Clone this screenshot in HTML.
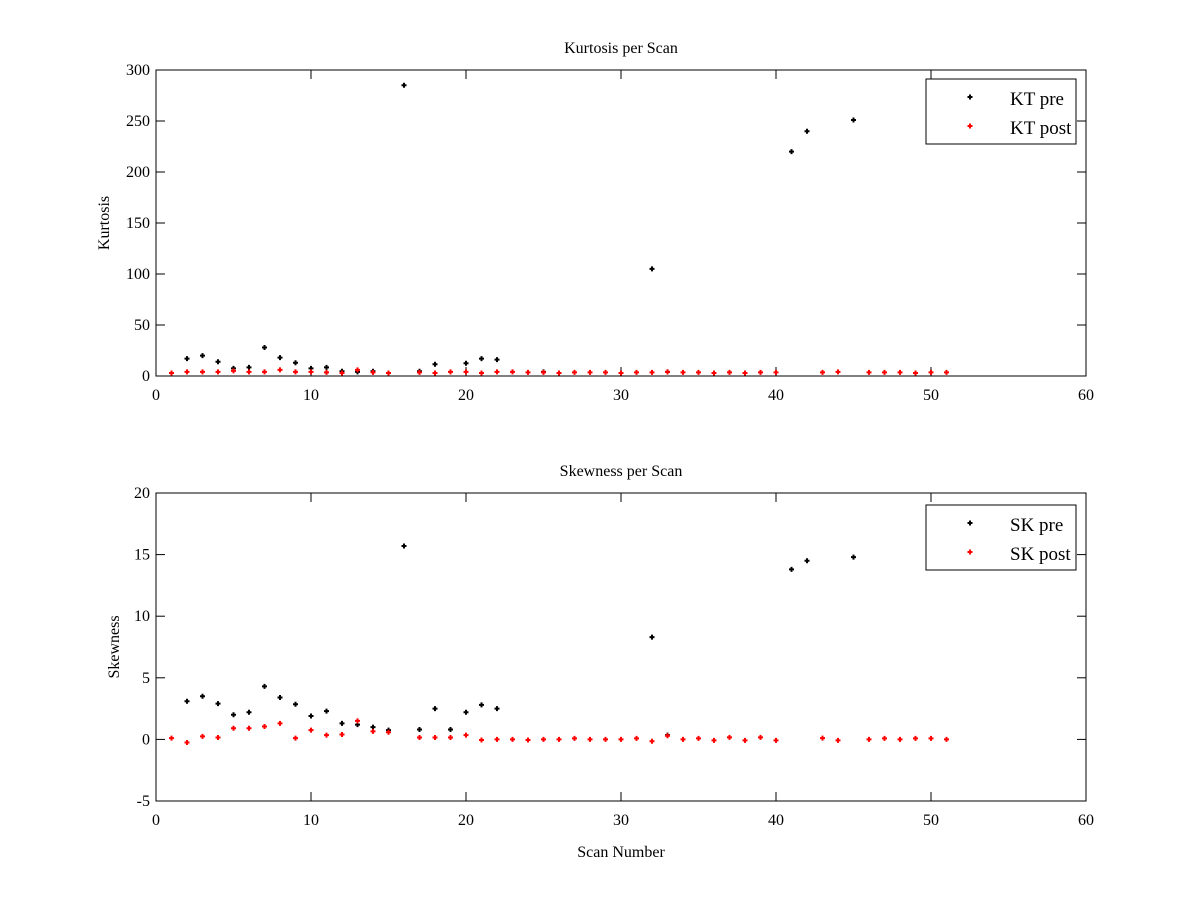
<!DOCTYPE html>
<html><head><meta charset="utf-8"><style>
html,body{margin:0;padding:0;background:#fff;}
svg text{font-family:"Liberation Serif",serif;fill:#000;}
</style></head>
<body>
<svg id="fig" width="1200" height="900" xmlns="http://www.w3.org/2000/svg"></svg>
<script>
// ---- data ----
const ktPreScans = [2,3,4,5,6,7,8,9,10,11,12,13,14,16,17,18,20,21,22,25,32,33,41,42,45];
const ktPreValues = [17,20,14,7.5,8.5,28,18,13,7.5,8.5,4.6,4,4.6,285,4.6,11.5,12.5,17,16,4,105,4,220,240,251];
const ktPostScans = [1,2,3,4,5,6,7,8,9,10,11,12,13,14,15,17,18,19,20,21,22,23,24,25,26,27,28,29,30,31,32,33,34,35,36,37,38,39,40,43,44,46,47,48,49,50,51];
const ktPostValues = [3,4,4,4,5,4,4,6,4,4,3.5,3,6,3.5,3,3.5,3,4,4,3,4,4,3.5,3.5,3,3.5,3.5,3.5,3,3.5,3.5,4,3.5,3.5,3,3.5,3,3.5,3.5,3.5,4,3.5,3.5,3.5,3,3.5,3.5,3.5];
const skPreScans = [2,3,4,5,6,7,8,9,10,11,12,13,14,15,16,17,18,19,20,21,22,32,33,41,42,45];
const skPreValues = [3.1,3.5,2.9,2.0,2.2,4.3,3.4,2.85,1.9,2.3,1.3,1.2,1.0,0.75,15.7,0.8,2.5,0.8,2.2,2.8,2.5,8.3,0.35,13.8,14.5,14.8];
const skPostScans = [1,2,3,4,5,6,7,8,9,10,11,12,13,14,15,17,18,19,20,21,22,23,24,25,26,27,28,29,30,31,32,33,34,35,36,37,38,39,40,43,44,46,47,48,49,50,51];
const skPostValues = [0.1,-0.25,0.25,0.15,0.9,0.9,1.05,1.3,0.1,0.75,0.35,0.4,1.5,0.65,0.58,0.15,0.15,0.15,0.35,-0.05,0,0,-0.05,0,0,0.08,0,0,0,0.08,-0.15,0.3,0,0.08,-0.08,0.16,-0.08,0.16,-0.08,0.1,-0.08,0,0.08,0,0.08,0.08,0];
const xTicks = [0,10,20,30,40,50,60];
const ktTicks = [0,50,100,150,200,250,300];
const skTicks = [-5,0,5,10,15,20];

const NS="http://www.w3.org/2000/svg";
const svg=document.getElementById('fig');
function mk(tag,attrs,parent){const e=document.createElementNS(NS,tag);for(const k in attrs)e.setAttribute(k,attrs[k]);(parent||svg).appendChild(e);return e;}

function panel(cfg){
  const g=mk('g',{});
  
  
  const L=156,R=1086,T=cfg.top,B=cfg.bottom;
  const xs=v=>L+(v-0)/60*(R-L);
  const ys=v=>B-(v-cfg.ymin)/(cfg.ymax-cfg.ymin)*(B-T);
  const frame=mk('rect',{x:L,y:T,width:R-L,height:B-T,fill:'none',stroke:'#000','stroke-width':1},g);
  
  
  xTicks.forEach(t=>{
    const x=xs(t);
    mk('line',{x1:x,y1:B,x2:x,y2:B-9,stroke:'#000'},g);
    mk('line',{x1:x,y1:T,x2:x,y2:T+9,stroke:'#000'},g);
    const tx=mk('text',{x:x,y:B+24,'font-size':16,'text-anchor':'middle'},g);
    tx.textContent=t;
    
    
  });
  cfg.yticks.forEach(t=>{
    const y=ys(t);
    mk('line',{x1:L,y1:y,x2:L+9,y2:y,stroke:'#000'},g);
    mk('line',{x1:R,y1:y,x2:R-9,y2:y,stroke:'#000'},g);
    const tx=mk('text',{x:L-6,y:y+5,'font-size':16,'text-anchor':'end'},g);
    tx.textContent=t;
    
    
  });
  const title=mk('text',{x:(L+R)/2,y:T-17,'font-size':16,'text-anchor':'middle'},g);
  title.textContent=cfg.title;
  
  
  const yl=mk('text',{x:0,y:0,'font-size':16,'text-anchor':'middle',transform:`translate(${cfg.ylabX},${(T+B)/2}) rotate(-90)`},g);
  yl.textContent=cfg.ylabel;
  
  
  function marker(x,y,col,parent){
    const p=mk('path',{d:`M${x-2.5},${y-1}h1.5v-1.5h2v1.5h1.5v2h-1.5v1.5h-2v-1.5h-1.5z`,fill:col},parent);
    return p;
  }
  cfg.series.forEach(s=>{
    const sg=mk('g',{},g);
    
    
    s.xs.forEach((sc,i)=>{
      const m=marker(xs(sc),ys(s.ys[i]),s.color,sg);
      
      
    });
  });
  // legend
  const lg=mk('g',{},g);
  
  
  const lt=cfg.legTop;
  mk('rect',{x:926,y:lt,width:150,height:65,fill:'#fff',stroke:'#000'},lg);
  cfg.series.forEach((s,i)=>{
    const yy=lt+18+i*29;
    const e=mk('g',{},lg);
    
    
    marker(970,yy,s.color,e);
    const t=mk('text',{x:1010,y:yy+8,'font-size':19},e);
    t.textContent=s.label;
  });
  if(cfg.xlabel){
    const xl=mk('text',{x:(L+R)/2,y:B+56,'font-size':16,'text-anchor':'middle'},g);
    xl.textContent=cfg.xlabel;
    
    
  }
}
panel({name:'kurtosis-chart',top:70,bottom:376,ymin:0,ymax:300,yticks:ktTicks,title:'Kurtosis per Scan',ylabel:'Kurtosis',ylabX:109,legTop:79,
  series:[{name:'kt-pre-series',label:'KT pre',color:'#000',xs:ktPreScans,ys:ktPreValues},{name:'kt-post-series',label:'KT post',color:'#f00',xs:ktPostScans,ys:ktPostValues}]});
panel({name:'skewness-chart',top:493,bottom:801,ymin:-5,ymax:20,yticks:skTicks,title:'Skewness per Scan',ylabel:'Skewness',ylabX:119,legTop:505,xlabel:'Scan Number',
  series:[{name:'sk-pre-series',label:'SK pre',color:'#000',xs:skPreScans,ys:skPreValues},{name:'sk-post-series',label:'SK post',color:'#f00',xs:skPostScans,ys:skPostValues}]});
</script>
</body></html>
